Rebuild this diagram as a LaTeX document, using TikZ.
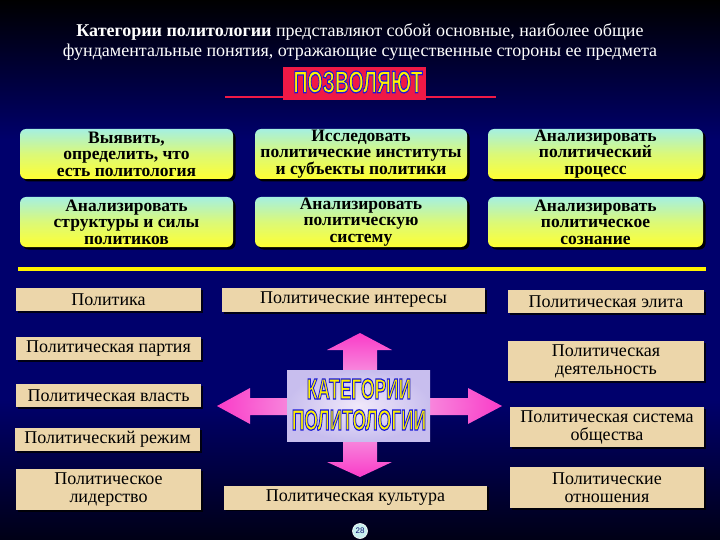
\documentclass[tikz,border=0pt]{standalone}
\usepackage{fontspec}
\setmainfont{Liberation Serif}
\setsansfont{Liberation Sans}
\usepackage{graphicx}
\usetikzlibrary{shadows}
\definecolor{bgmid}{RGB}{0,0,108}
\definecolor{bgbot}{RGB}{0,0,22}
\definecolor{aqua}{RGB}{165,240,225}
\definecolor{yel}{RGB}{255,255,50}
\definecolor{tanc}{RGB}{236,214,170}
\definecolor{pinkA}{RGB}{250,60,200}
\definecolor{pinkB}{RGB}{245,205,240}
\definecolor{lavA}{RGB}{240,232,250}
\definecolor{lavB}{RGB}{200,190,238}
\definecolor{bannerred}{RGB}{240,25,70}
\definecolor{shblue}{RGB}{10,10,110}
\definecolor{pagec}{RGB}{200,240,240}
\pgfdeclareverticalshading{bgshade}{100bp}{color(0bp)=(bgbot); color(25bp)=(bgbot); color(38bp)=(bgmid); color(62bp)=(bgmid); color(75bp)=(black); color(100bp)=(black)}
% outlined text: yellow fill, blue stroke (PDF text render mode 2)
\newcommand\outl[2]{\scalebox{#1}[1]{\special{pdf:literal direct 2 Tr 1.25 w 0.1 0.1 0.85 RG}#2\special{pdf:literal direct 0 Tr}}}
\tikzset{
  gbox/.style={rounded corners=6pt, top color=aqua, bottom color=yel, middle color={aqua!40!yel},
    minimum height=50pt, align=center, inner sep=0pt,
    font=\fontsize{17.5}{16.5}\selectfont\bfseries,
    drop shadow={shadow xshift=2.5pt, shadow yshift=-2.5pt, fill=black, opacity=1}},
  tbox/.style={fill=tanc, align=center, inner sep=0pt,
    font=\fontsize{18}{18}\selectfont,
    drop shadow={shadow xshift=1.5pt, shadow yshift=-1.5pt, fill=black, opacity=0.8}},
  bigtxt/.style={text=yellow, inner sep=0pt, font=\fontsize{#1}{#1}\selectfont\bfseries\sffamily},
}
\begin{document}
\begin{tikzpicture}[x=1pt,y=-1pt]
\useasboundingbox (0,0) rectangle (720,540);
\shade[shading=bgshade] (0,0) rectangle (720,540);
% title
\node[font=\fontsize{18}{20}\selectfont, text=white, align=center] (title) at (360,42)
 {\textbf{Категории политологии} представляют собой основные, наиболее общие\\
  фундаментальные понятия, отражающие существенные стороны ее предмета};
% banner
\draw[bannerred, line width=2pt] (225,97) -- (496,97);
\node[fill=bannerred, minimum width=143pt, minimum height=33pt, inner sep=0] (ban) at (354,83.5) {};
\node[bigtxt=31] (bantxt) at (358,82) {\outl{0.63}{ПОЗВОЛЯЮТ}};
% green boxes
\node[gbox, minimum width=213pt] (g1) at (126.5,154) {Выявить,\\определить, что\\есть политология};
\node[gbox, minimum width=212pt] (g2) at (361,154) {Исследовать\\политические институты\\и субъекты политики};
\node[gbox, minimum width=215pt] (g3) at (595.5,154) {Анализировать\\политический\\процесс};
\node[gbox, minimum width=213pt] (g4) at (126.5,222) {Анализировать\\структуры и силы\\политиков};
\node[gbox, minimum width=212pt] (g5) at (361,222) {Анализировать\\политическую\\систему};
\node[gbox, minimum width=215pt] (g6) at (595.5,222) {Анализировать\\политическое\\сознание};
% yellow rule
\coordinate (ra) at (18,269);
\coordinate (rb) at (706,269);
\draw[yellow, line width=4pt] (ra) -- (rb);
% tan boxes
\node[tbox, minimum width=185pt, minimum height=23pt] (t1) at (108.5,299.5) {Политика};
\node[tbox, minimum width=263pt, minimum height=24pt] (t2) at (353.5,300) {Политические интересы};
\node[tbox, minimum width=196pt, minimum height=23pt] (t3) at (606,301.5) {Политическая элита};
\node[tbox, minimum width=185pt, minimum height=23pt] (t4) at (108.5,348.5) {Политическая партия};
\node[tbox, minimum width=196pt, minimum height=40pt] (t5) at (606,361) {Политическая\\деятельность};
\node[tbox, minimum width=185pt, minimum height=23pt] (t6) at (108.5,395.5) {Политическая власть};
\node[tbox, minimum width=194pt, minimum height=40pt] (t7) at (607,427) {Политическая система\\общества};
\node[tbox, minimum width=185pt, minimum height=23pt] (t8) at (107.5,439.5) {Политический режим};
\node[tbox, minimum width=185pt, minimum height=41pt] (t9) at (108.5,489.5) {Политическое\\лидерство};
\node[tbox, minimum width=263pt, minimum height=24pt] (t10) at (355.5,497.5) {Политическая культура};
\node[tbox, minimum width=194pt, minimum height=41pt] (t11) at (607,487.5) {Политические\\отношения};
% cross arrow
\shade[inner color=pinkB, outer color=pinkA]
 (360,333) -- (392,350) -- (377,350) -- (377,398) -- (468,398) -- (468,388) -- (502,406)
 -- (468,424) -- (468,415) -- (377,415) -- (377,462) -- (392,462) -- (360,477) -- (327,462)
 -- (343,462) -- (343,415) -- (250,415) -- (250,424) -- (217,406) -- (250,388) -- (250,398)
 -- (343,398) -- (343,350) -- (327,350) -- cycle;
\node[inner color=lavA, outer color=lavB, minimum width=143pt, minimum height=71pt, inner sep=0] (ctr) at (358.5,405.5) {};
\node[bigtxt=29] (c1) at (359,389) {\outl{0.6}{КАТЕГОРИИ}};
\node[bigtxt=29] (c2) at (359,420) {\outl{0.6}{ПОЛИТОЛОГИИ}};
% page number
\node[circle, fill=pagec, draw=white, line width=0.6pt, minimum size=15pt, inner sep=0,
  font=\fontsize{8}{8}\selectfont\sffamily, text=shblue] (pg) at (360,531) {28};
\end{tikzpicture}
\end{document}
